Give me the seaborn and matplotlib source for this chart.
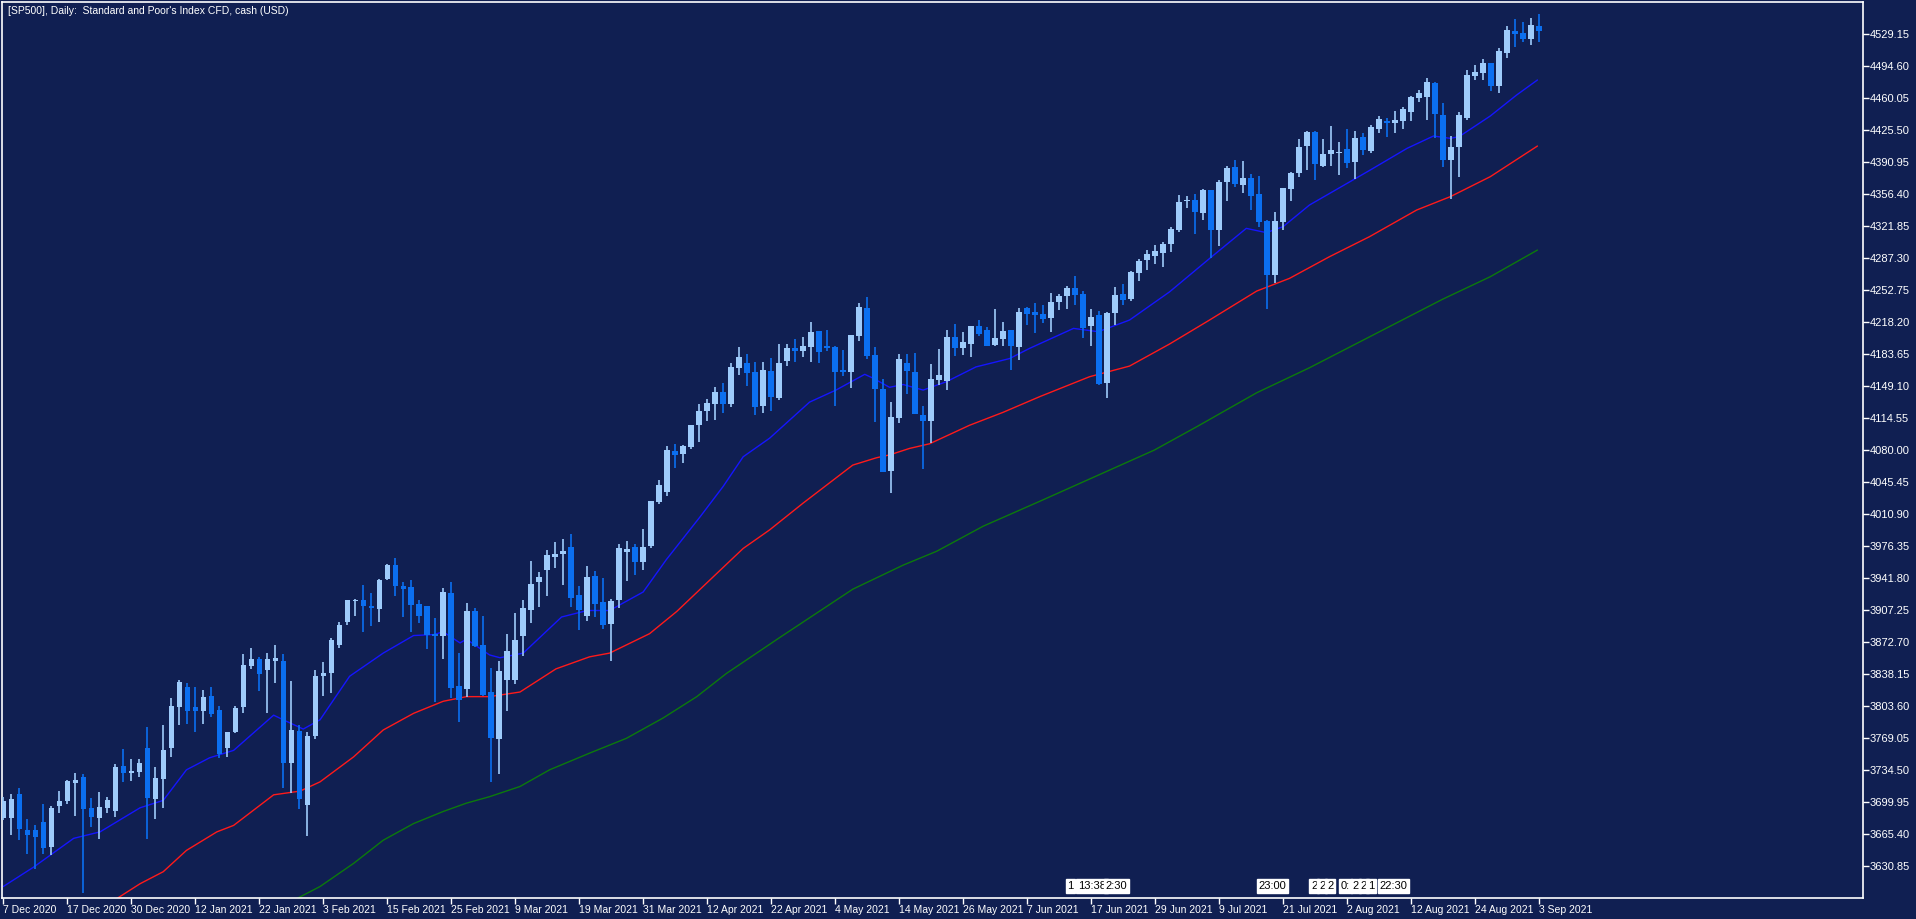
import matplotlib
matplotlib.use("Agg")
import matplotlib.pyplot as plt
import seaborn as sns
import pandas as pd

# daily OHLC, [SP500] CFD, 7 Dec 2020 .. 3 Sep 2021
opens = [3683, 3683, 3709, 3670, 3670, 3679, 3652, 3696, 3701, 3721, 3727, 3694, 3683, 3694, 3690, 3739, 3732, 3733, 3759, 3703,
         3725, 3759, 3803, 3824, 3803, 3798, 3815, 3800, 3759, 3776, 3803, 3847, 3855, 3843, 3852, 3853, 3742, 3777, 3697, 3772,
         3836, 3840, 3870, 3895, 3917, 3918, 3912, 3909, 3941, 3956, 3933, 3932, 3914, 3912, 3881, 3880, 3926, 3825, 3822, 3906,
         3870, 3819, 3768, 3832, 3832, 3879.5, 3908, 3938, 3951, 3965, 3968, 3976, 3924, 3901, 3944, 3916, 3892, 3918, 3970, 3976,
         3959, 3977, 4024, 4035, 4079, 4076, 4083, 4107, 4122, 4130.3, 4142.9, 4130.3, 4168.9, 4174.3, 4164.5, 4127.8, 4165.6, 4136.8, 4176.8, 4190.5,
         4187.6, 4191.9, 4208.8, 4192.6, 4191.5, 4166.7, 4164.9, 4203.8, 4233.7, 4182.9, 4146.2, 4058, 4115.2, 4174.3, 4164.5, 4118.1, 4112, 4156.3, 4155.2, 4202.3,
         4190.8, 4195.1, 4214.2, 4209.9, 4194, 4200.5, 4209.9, 4191.9, 4233.7, 4229.3, 4227.1, 4223.1, 4240.4, 4246.9, 4255.2, 4248.7, 4214.5, 4226, 4152.9, 4228.5,
         4248.7, 4243.3, 4271.4, 4285.8, 4290.1, 4293.3, 4303.0, 4318.2, 4348.8, 4350.2, 4336.2, 4361.0, 4318.2, 4370, 4385.8, 4366.4, 4374, 4356.7, 4327.5, 4269.6,
         4326.8, 4362.1, 4379.7, 4408.9, 4423.6, 4387.3, 4400.2, 4401.3, 4405.3, 4391.6, 4418.2, 4403.5, 4427.2, 4435.5, 4433.7, 4435.9, 4445.6, 4460.7, 4461.8, 4476.6,
         4442.0, 4393.8, 4407.8, 4439.1, 4484.5, 4487.7, 4498.2, 4473.7, 4509.3, 4532.7, 4530.6, 4524.4, 4538.1]
highs = [3706, 3709, 3715, 3682, 3675, 3698, 3696, 3712, 3724, 3732, 3730, 3705, 3711, 3706, 3741, 3757, 3747, 3747, 3781, 3738,
         3783, 3813, 3832, 3829, 3824, 3821, 3824, 3804, 3776, 3804, 3860, 3867, 3857, 3861, 3870, 3860, 3831, 3783, 3776, 3843,
         3851, 3877, 3895, 3918, 3919, 3935, 3926, 3941, 3957, 3964, 3938, 3940, 3918, 3912, 3899, 3931, 3938, 3861, 3915, 3910,
         3901, 3845, 3852, 3882, 3904, 3918, 3960, 3949, 3972, 3981, 3984, 3990, 3933, 3955, 3950, 3942, 3919, 3979, 3982, 3979,
         3995, 4025, 4048, 4085, 4087, 4086, 4107, 4130, 4135, 4148.3, 4152.7, 4174.3, 4191.5, 4184.0, 4175.3, 4175.3, 4180, 4194.8, 4194.8, 4200.2,
         4202.3, 4218.5, 4208.8, 4209.9, 4192.6, 4188.3, 4204.5, 4239.1, 4245.5, 4191.5, 4157, 4132.1, 4184, 4184, 4185.1, 4127.8, 4173.2, 4189.4, 4209.9, 4216.4,
         4207.7, 4214.2, 4220.7, 4213.1, 4232.6, 4218.5, 4209.9, 4233.7, 4234.7, 4239.1, 4236.8, 4249.8, 4248.7, 4257.3, 4268.1, 4251.6, 4232.5, 4230.3, 4229.2, 4256.2,
         4259.5, 4273.5, 4286.5, 4296.2, 4301.6, 4304.8, 4321.0, 4355.6, 4354.5, 4356.7, 4362.1, 4361.0, 4371.8, 4386.9, 4393.4, 4392.3, 4378.3, 4376.1, 4328.6, 4337.2,
         4363.2, 4380.8, 4416.1, 4424.7, 4424.7, 4416.1, 4430.1, 4412.8, 4426.9, 4424.7, 4422.6, 4431.2, 4440.9, 4438.8, 4446.3, 4450.6, 4462.5, 4469.0, 4482.0, 4477.6,
         4455.0, 4419.3, 4445.2, 4490.6, 4496.0, 4502.5, 4498.2, 4514.4, 4538.1, 4545.7, 4542.4, 4546.8, 4551.1]
lows = [3681, 3665, 3659, 3644, 3628, 3644, 3643, 3688, 3698, 3685, 3602, 3673, 3660, 3688, 3684, 3722, 3723, 3727, 3660, 3682,
        3694, 3749, 3783, 3784, 3776, 3784, 3792, 3748, 3749, 3775, 3796, 3844, 3820, 3796, 3829, 3715, 3710, 3693, 3664, 3768,
        3815, 3818, 3866, 3891, 3901, 3884, 3890, 3895, 3940, 3923, 3900, 3884, 3893, 3865, 3808, 3855, 3813, 3787, 3814, 3868,
        3815, 3722, 3730, 3798, 3828, 3858, 3894, 3911, 3923, 3953, 3935, 3911, 3886, 3896, 3900, 3887, 3853, 3910, 3939, 3945,
        3951, 3974, 4022, 4031, 4061, 4066, 4081, 4089, 4112, 4112.7, 4120.3, 4126.7, 4161.3, 4149.4, 4118.1, 4120.3, 4122.8, 4134.7, 4171.4, 4175.7,
        4181.1, 4175.7, 4174.6, 4187.6, 4128.2, 4160.6, 4147.6, 4198.4, 4178.9, 4110.9, 4056.9, 4034.2, 4109.8, 4141.1, 4119.5, 4060.1, 4088.2, 4150.9, 4145.5, 4182.2,
        4183.3, 4181.1, 4203.8, 4193, 4193, 4193, 4167.1, 4177.9, 4215.7, 4207, 4217.7, 4208, 4231.8, 4232.8, 4237.2, 4201.5, 4192.9, 4150.8, 4136.7, 4215.6,
        4237.2, 4241.5, 4263.1, 4275.0, 4281.4, 4278.2, 4294.4, 4316.0, 4341.6, 4313.8, 4328.6, 4287.2, 4300.5, 4349.5, 4364.6, 4357.8, 4339.8, 4321.4, 4232.8, 4260.9,
        4318.2, 4349.5, 4375.4, 4383.0, 4372.2, 4386.2, 4387.3, 4377.6, 4385.1, 4373.2, 4399.2, 4401.3, 4422.9, 4418.6, 4422.9, 4427.2, 4435.9, 4456.4, 4437.0, 4417.5,
        4386.2, 4351.6, 4375.4, 4436.9, 4480.2, 4479.8, 4468.3, 4466.1, 4503.9, 4515.8, 4521.2, 4518.0, 4521.2]
closes = [3701, 3704, 3671, 3665, 3662, 3651, 3694, 3701, 3723, 3724, 3693, 3684, 3695, 3702, 3738, 3732, 3733, 3742, 3705, 3726,
          3756, 3804, 3830, 3798, 3798, 3814, 3795, 3752, 3776, 3802, 3848, 3855, 3838, 3855, 3856, 3742, 3778, 3704, 3771, 3836,
          3840, 3875, 3891, 3918, 3918, 3912, 3910, 3940, 3956, 3933, 3930, 3913, 3901, 3881, 3880, 3927, 3823, 3810, 3906, 3869,
          3816, 3769, 3842, 3863, 3875, 3909.7, 3936, 3943, 3967, 3968, 3971, 3921, 3908, 3943, 3914, 3891, 3917, 3974, 3973, 3959,
          3976, 4025, 4043, 4080, 4075, 4085, 4107, 4122, 4131, 4142.9, 4130.3, 4170.0, 4180.7, 4163.5, 4126.7, 4166.7, 4137.9, 4174.3, 4190.5, 4187.6,
          4192.6, 4207.7, 4186.5, 4190.5, 4164.9, 4164.9, 4204.5, 4234.7, 4182.2, 4146.5, 4056.9, 4115.9, 4178.6, 4166, 4119.5, 4112, 4157, 4161.3, 4202.3, 4190.8,
          4196.9, 4214.2, 4206, 4193, 4201.3, 4208.8, 4193, 4229.3, 4227.5, 4226.5, 4222, 4240.1, 4246.5, 4255.2, 4248, 4212, 4223.8, 4151.8, 4228.2, 4247.6,
          4242.2, 4272.4, 4284.3, 4291.9, 4295.1, 4302.7, 4318.9, 4348.0, 4349.8, 4337.6, 4361.0, 4318.2, 4369.6, 4384.8, 4367.8, 4374, 4354.5, 4326.8, 4269.6, 4327.5,
          4363.2, 4379.7, 4407.5, 4423.6, 4389.4, 4399.9, 4404.2, 4402, 4390.5, 4417.2, 4404.6, 4429.0, 4437.7, 4433.7, 4436.6, 4448.5, 4461.4, 4465.8, 4477.6, 4443.4,
          4393.8, 4407.5, 4442.0, 4485.2, 4488.4, 4498.2, 4473.7, 4511.1, 4533.8, 4529.8, 4524.4, 4539.2, 4533.1]

# moving averages, sampled along the lines (bar index, price)
ma_blue_x = [0, 3.8, 8.8, 12.1, 17.1, 20, 22.9, 25.8, 28.8, 33.8, 35, 37.5, 39.6, 43.3, 47.5, 51.3, 53.8, 55, 57.1, 57.9, 60.8, 62.1,
             65, 69.8, 73, 75.8, 80, 82.9, 87.1, 90, 92.5, 95.8, 100.8, 104.1, 107.7, 108.7, 110.8, 112.5, 115, 117.9, 121.6, 125.8,
             128.3, 133.8, 136.9, 140.8, 145.8, 150.8, 155.4, 157.9, 160, 163.3, 166.7, 170.9, 175.5, 178.8, 180.9, 182, 185.9, 189.2, 191.8]
ma_blue_y = [3609, 3630, 3661, 3668, 3694, 3702, 3735, 3748, 3756, 3794, 3789, 3779, 3789, 3836, 3861, 3880, 3881, 3884, 3872, 3876, 3859, 3856,
             3861, 3900, 3907, 3907, 3927, 3962, 4008, 4041, 4073, 4093, 4132, 4145, 4162, 4158, 4148, 4151, 4145, 4154, 4170, 4179,
             4190, 4211.6, 4208, 4220.6, 4251, 4287, 4319.6, 4315, 4321.4, 4344.8, 4361.7, 4382.6, 4406, 4419.3, 4416.8, 4418.6, 4440.9, 4463.6, 4479.8]
ma_red_x = [14.2, 17.1, 20, 22.9, 26.7, 28.8, 33.8, 37.1, 39.6, 43.8, 47.5, 51.3, 55, 57.9, 60.8, 64.6, 69.1, 73.3, 75.8, 80.8, 84.2, 89.2,
            92.5, 95.8, 100, 106.2, 109.2, 110.8, 113.3, 115.8, 120.8, 125, 129.6, 135.8, 140.8, 145.8, 150.8, 156.7, 160.8, 165.8,
            170.8, 176.7, 180.9, 185.9, 191.8]
ma_red_y = [3596, 3612, 3625, 3648, 3668, 3675, 3708, 3712, 3722, 3749, 3778, 3796, 3809, 3814, 3814, 3819, 3844, 3857, 3861, 3882, 3906, 3947,
            3974, 3994, 4023, 4064, 4072, 4075, 4082, 4087, 4107, 4121, 4138, 4159.4, 4170.9, 4194.7, 4220.6, 4251.9, 4265.6, 4289,
            4310.6, 4339.4, 4353.8, 4375.4, 4408.5]
ma_green_x = [36.7, 39.6, 43.8, 47.5, 51.3, 55, 57.9, 60.8, 64.6, 68.3, 73.3, 77.9, 82.5, 86.7, 90.4, 97.1, 106.2, 112.5, 116.7, 122.5,
              129.6, 143.9, 149.2, 156.7, 163.3, 179.9, 185.9, 191.8]
ma_green_y = [3596, 3609, 3634, 3659, 3677, 3690, 3699, 3706, 3717, 3735, 3753, 3769, 3791, 3814, 3839, 3878, 3930, 3956, 3971, 3998,
              4025, 4080.2, 4105.4, 4142.1, 4169.1, 4242.9, 4267.4, 4296.2]

date_labels = ["7 Dec 2020", "17 Dec 2020", "30 Dec 2020", "12 Jan 2021", "22 Jan 2021", "3 Feb 2021", "15 Feb 2021",
               "25 Feb 2021", "9 Mar 2021", "19 Mar 2021", "31 Mar 2021", "12 Apr 2021", "22 Apr 2021", "4 May 2021",
               "14 May 2021", "26 May 2021", "7 Jun 2021", "17 Jun 2021", "29 Jun 2021", "9 Jul 2021", "21 Jul 2021",
               "2 Aug 2021", "12 Aug 2021", "24 Aug 2021", "3 Sep 2021"]
price_ticks = [3630.85, 3665.40, 3699.95, 3734.50, 3769.05, 3803.60, 3838.15, 3872.70, 3907.25, 3941.80, 3976.35,
               4010.90, 4045.45, 4080.00, 4114.55, 4149.10, 4183.65, 4218.20, 4252.75, 4287.30, 4321.85, 4356.40,
               4390.95, 4425.50, 4460.05, 4494.60, 4529.15]

# event flags along the bottom edge
flag_text = ["1", "13:38", "2:30", "23:00", "2", "2", "2", "0:", "2", "2", "1", "22:30"]
flag_pos = [133.4, 136.1, 139.2, 158.7, 163.9, 164.9, 165.9, 167.8, 169.1, 170.1, 171, 173.8]

BG = "#101f52"
BULL = "#9ecbfb"
BEAR = "#0b6ff0"

sns.set_theme(style="dark")
plt.rcParams["font.family"] = ["Liberation Sans", "DejaVu Sans"]

df = pd.DataFrame({"o": opens, "h": highs, "l": lows, "c": closes})
df["i"] = range(len(df))
df["up"] = df["c"] >= df["o"]
df["color"] = df["up"].map({True: BULL, False: BEAR})

fig = plt.figure(figsize=(19.16, 9.19), dpi=100, facecolor=BG)
ax = fig.add_axes([2 / 1916, 21 / 919, 1861 / 1916, 896 / 919])
ax.set_facecolor(BG)

# moving averages
sns.lineplot(x=ma_green_x, y=ma_green_y, color="#0c7a0c", lw=1, ax=ax)
sns.lineplot(x=ma_red_x, y=ma_red_y, color="#ff1a1a", lw=1, ax=ax)
sns.lineplot(x=ma_blue_x, y=ma_blue_y, color="#1515ff", lw=1, ax=ax)

# candles
ax.vlines(df["i"], df["l"], df["h"], colors=df["color"], lw=1.2, zorder=3)
body_lo = df[["o", "c"]].min(axis=1)
body_h = (df["c"] - df["o"]).abs().clip(lower=1.2)
ax.bar(df["i"], body_h, bottom=body_lo, width=0.68, color=df["color"], linewidth=0, zorder=4)

ax.set_xlim(-0.16, 232.5)
ax.set_ylim(3596.6, 4564.0)

ax.set_xticks(range(0, len(df), 8))
ax.set_xticklabels(date_labels, fontsize=7.5)
ax.set_yticks(price_ticks)
ax.set_yticklabels([f"{v:.2f}" for v in price_ticks], fontsize=8)
ax.yaxis.tick_right()
ax.tick_params(axis="both", colors="white", labelcolor="white", length=4, width=1,
               direction="out", bottom=True, right=True, pad=1)
for lab in ax.get_xticklabels():
    lab.set_horizontalalignment("left")
ax.grid(False)
for s in ax.spines.values():
    s.set_color("white")
    s.set_linewidth(1.2)

for t, p in zip(flag_text, flag_pos):
    ax.text(p, 3604, t, fontsize=8, color="black", ha="center", va="bottom", zorder=6,
            bbox=dict(boxstyle="square,pad=0.15", fc="white", ec="white"))

ax.text(0.003, 0.996, "[SP500], Daily:  Standard and Poor's Index CFD, cash (USD)", transform=ax.transAxes,
        color="white", fontsize=7.5, ha="left", va="top")

fig.savefig("out.png", dpi=100, facecolor=BG)
